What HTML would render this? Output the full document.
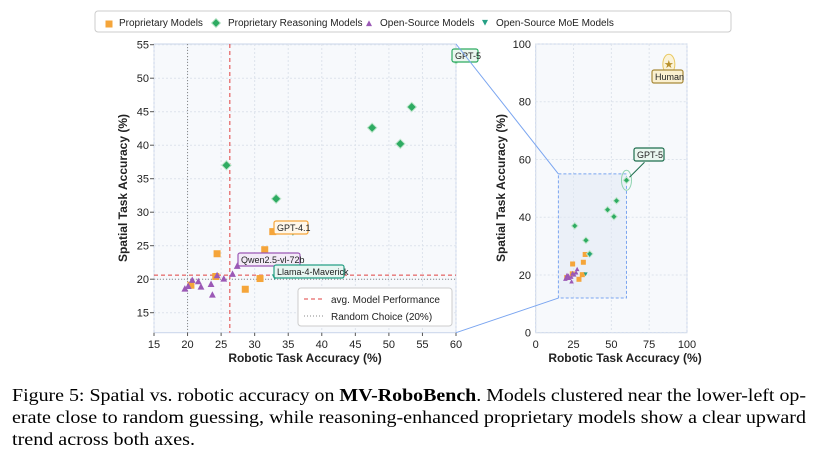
<!DOCTYPE html>
<html><head><meta charset="utf-8"><style>
body{margin:0;background:#fff;width:822px;height:458px;overflow:hidden}
svg{display:block;font-family:"Liberation Sans",sans-serif}
</style></head><body>
<svg id="fig" width="822" height="458">
</svg>
<script>
const propX=[24.4,31.5,32.7,30.8,28.6,24.2,20.5];
const propY=[23.8,24.4,27.1,20.1,18.5,20.4,19.1];
const reasX=[25.8,33.2,47.5,51.7,53.4,60,35.7];
const reasY=[37,32,42.6,40.2,45.7,52.8,27.3];
const osX=[19.6,20.1,20.7,21.6,22,23.5,23.7,24.4,25.4,26.7,27.4];
const osY=[18.5,18.9,19.8,19.6,18.8,19.2,17.6,20.5,20,20.7,21.9];
const moeX=[33,35.7];
const moeY=[20.4,27];
const humanX=[88];const humanY=[93];
const avgX=26.3, avgY=20.6, randX=20, randY=20;
const mainXTicks=[15,20,25,30,35,40,45,50,55,60];
const mainYTicks=[15,20,25,30,35,40,45,50,55];
const insTicksX=[0,25,50,75,100];
const insTicksY=[0,20,40,60,80,100];

const NS="http://www.w3.org/2000/svg";
const svg=document.getElementById('fig');
function el(tag,attrs,parent,text){const e=document.createElementNS(NS,tag);for(const k in attrs)e.setAttribute(k,attrs[k]);if(text!==undefined)e.textContent=text;(parent||svg).appendChild(e);return e;}
const C={prop:'#f5a53a',reas:'#2eab62',os:'#9b59b6',moe:'#26a085'};
const mx=v=>154+(v-15)*(302/45), my=v=>312.7-(v-15)*(268/40);
const ix=v=>535.7+v*1.513, iy=v=>332.7-v*2.887;

function marker(type,x,y,s,g){
 let m;
 if(type==='sq') m=el('rect',{x:x-s,y:y-s,width:2*s,height:2*s,fill:C.prop},g);
 else if(type==='di') m=el('polygon',{points:`${x},${y-s*1.3} ${x+s*1.3},${y} ${x},${y+s*1.3} ${x-s*1.3},${y}`,fill:C.reas,stroke:'#bfe6cc','stroke-width':1},g);
 else if(type==='tr') m=el('polygon',{points:`${x},${y-s*1.2} ${x+s},${y+s*0.7} ${x-s},${y+s*0.7}`,fill:C.os},g);
 else m=el('polygon',{points:`${x},${y+s*1.2} ${x+s},${y-s*0.7} ${x-s},${y-s*0.7}`,fill:C.moe},g);
 return m;
}

const mp=el('g',{}, svg);
el('rect',{x:154,y:44,width:302,height:288.7,fill:'#f7f9fc',stroke:'#c8d4ea','stroke-width':1},mp);
mainXTicks.forEach(t=>{el('line',{x1:mx(t),x2:mx(t),y1:44,y2:332.7,stroke:'#dde3ec','stroke-dasharray':'2,2'},mp);
 const l=el('text',{x:mx(t),y:348,'font-size':11,'text-anchor':'middle',fill:'#222'},mp,t);
 el('line',{x1:mx(t),x2:mx(t),y1:332.7,y2:336,stroke:'#555'},mp);});
mainYTicks.forEach(t=>{el('line',{x1:154,x2:456,y1:my(t),y2:my(t),stroke:'#dde3ec','stroke-dasharray':'2,2'},mp);
 const l=el('text',{x:149,y:my(t)+4,'font-size':11,'text-anchor':'end',fill:'#222'},mp,t);
 el('line',{x1:150,x2:154,y1:my(t),y2:my(t),stroke:'#555'},mp);});
el('line',{x1:mx(randX),x2:mx(randX),y1:44,y2:332.7,stroke:'#888','stroke-dasharray':'1,2'},mp);
el('line',{x1:154,x2:456,y1:my(randY),y2:my(randY),stroke:'#888','stroke-dasharray':'1,2'},mp);
el('line',{x1:mx(avgX),x2:mx(avgX),y1:44,y2:332.7,stroke:'#e04040','stroke-dasharray':'4,3'},mp);
el('line',{x1:154,x2:456,y1:my(avgY),y2:my(avgY),stroke:'#e04040','stroke-dasharray':'4,3'},mp);
propX.forEach((v,i)=>{const m=marker('sq',mx(v),my(propY[i]),3.5,mp);});
reasX.forEach((v,i)=>{const m=marker('di',mx(v),my(reasY[i]),3.6,mp);});
osX.forEach((v,i)=>{const m=marker('tr',mx(v),my(osY[i]),3.4,mp);});
moeX.forEach((v,i)=>{const m=marker('moe',mx(v),my(moeY[i]),3,mp);});
function tag(x,y,txt,stroke,fill,w,name){const g=el('g',{},svg);
 el('rect',{x:x,y:y,width:w,height:13,rx:2,fill:fill,stroke:stroke,'stroke-width':1.2},g);el('text',{x:x+3,y:y+10,'font-size':9,fill:'#222'},g,txt);}
tag(274,221,'GPT-4.1','#f5a53a','#fff7ea',34,'gpt41-label');
tag(238,253,'Qwen2.5-vl-72b','#9b59b6','#f3eaf7',62,'qwen-label');
tag(274,265,'Llama-4-Maverick','#26a085','#e8f6f2',70,'llama-label');
tag(452,49,'GPT-5','#2eab62','#eaf7ef',26,'gpt5-main-label');
const lg=el('g',{},mp);
el('rect',{x:298,y:288,width:154,height:38,rx:3,fill:'#fff',stroke:'#ccc'},lg);
el('line',{x1:304,x2:324,y1:299,y2:299,stroke:'#e04040','stroke-dasharray':'4,3'},lg);
el('text',{x:331,y:303,'font-size':10,fill:'#222'},lg,'avg. Model Performance');
el('line',{x1:304,x2:324,y1:316,y2:316,stroke:'#888','stroke-dasharray':'1,2'},lg);
el('text',{x:331,y:320,'font-size':10,fill:'#222'},lg,'Random Choice (20%)');
let t=el('text',{x:305,y:362,'font-size':12,'font-weight':'bold','text-anchor':'middle',fill:'#222'},svg,'Robotic Task Accuracy (%)');
t=el('text',{x:0,y:0,'font-size':12,'font-weight':'bold','text-anchor':'middle',fill:'#222',transform:'translate(127,188) rotate(-90)'},svg,'Spatial Task Accuracy (%)');

const ip=el('g',{},svg);
el('rect',{x:535.7,y:44,width:151.3,height:288.7,fill:'#f7f9fc',stroke:'#c8d4ea'},ip);
insTicksX.forEach(v=>{el('line',{x1:ix(v),x2:ix(v),y1:44,y2:332.7,stroke:'#dde3ec','stroke-dasharray':'2,2'},ip);
 const l=el('text',{x:ix(v),y:348,'font-size':11,'text-anchor':'middle',fill:'#222'},ip,v);});
insTicksY.forEach(v=>{el('line',{x1:535.7,x2:687,y1:iy(v),y2:iy(v),stroke:'#dde3ec','stroke-dasharray':'2,2'},ip);
 const l=el('text',{x:531,y:iy(v)+4,'font-size':11,'text-anchor':'end',fill:'#222'},ip,v);});
el('rect',{x:ix(15),y:iy(55),width:ix(60)-ix(15),height:iy(12)-iy(55),fill:'#dfe7f3','fill-opacity':0.5,stroke:'#7aa5f0','stroke-dasharray':'3,2'},ip);
el('line',{x1:456,y1:44,x2:ix(15),y2:iy(55),stroke:'#7aa5f0'},svg);
el('line',{x1:456,y1:332.7,x2:ix(15),y2:iy(12),stroke:'#7aa5f0'},svg);
propX.forEach((v,i)=>{const m=marker('sq',ix(v),iy(propY[i]),2.5,ip);});
reasX.forEach((v,i)=>{const m=marker('di',ix(v),iy(reasY[i]),2.5,ip);});
osX.forEach((v,i)=>{const m=marker('tr',ix(v),iy(osY[i]),2.3,ip);});
moeX.forEach((v,i)=>{const m=marker('moe',ix(v),iy(moeY[i]),2,ip);});
el('ellipse',{cx:ix(60),cy:iy(52.8),rx:5,ry:10,fill:'none',stroke:'#8fd3b0'},ip);
el('line',{x1:ix(60)+18,y1:iy(52.8)-18,x2:ix(60)+3,y2:iy(52.8)-3,stroke:'#1e6e4e'},ip);
tag(634,148,'GPT-5','#1e6e4e','#eaf7ef',30,'gpt5-inset-label');
el('ellipse',{cx:ix(humanX[0]),cy:iy(humanY[0]),rx:6,ry:10,fill:'#fbf3d8',stroke:'#e8c860'},ip);
t=el('text',{x:ix(humanX[0]),y:iy(humanY[0])+4,'font-size':11,'text-anchor':'middle',fill:'#b8902a'},ip,'★');
tag(652,70,'Human','#a88a3a','#faf0d0',31,'human-label');
t=el('text',{x:625,y:362,'font-size':12,'font-weight':'bold','text-anchor':'middle',fill:'#222'},svg,'Robotic Task Accuracy (%)');
t=el('text',{x:0,y:0,'font-size':12,'font-weight':'bold','text-anchor':'middle',fill:'#222',transform:'translate(505,188) rotate(-90)'},svg,'Spatial Task Accuracy (%)');

const tl=el('g',{},svg);
el('rect',{x:95,y:11,width:636,height:21,rx:3,fill:'#fff',stroke:'#ccc'},tl);
marker('sq',109,24,3.5,tl);el('text',{x:119,y:26,'font-size':10,fill:'#222'},tl,'Proprietary Models');
marker('di',216,23,3.5,tl);el('text',{x:228,y:26,'font-size':10,fill:'#222'},tl,'Proprietary Reasoning Models');
marker('tr',369,24,3,tl);el('text',{x:380,y:26,'font-size':10,fill:'#222'},tl,'Open-Source Models');
marker('moe',485,22,3,tl);el('text',{x:496,y:26,'font-size':10,fill:'#222'},tl,'Open-Source MoE Models');

const cap=el('g',{'font-family':'"Liberation Serif",serif','font-size':18,fill:'#000'},svg);
const c1=el('text',{x:12,y:401,textLength:794,lengthAdjust:'spacingAndGlyphs'},cap);
el('tspan',{},c1,'Figure 5: Spatial vs. robotic accuracy on ');el('tspan',{'font-weight':'bold'},c1,'MV-RoboBench');el('tspan',{},c1,'. Models clustered near the lower-left op-');
el('text',{x:12,y:423,textLength:794,lengthAdjust:'spacingAndGlyphs'},cap,'erate close to random guessing, while reasoning-enhanced proprietary models show a clear upward');
el('text',{x:12,y:445,textLength:183,lengthAdjust:'spacingAndGlyphs'},cap,'trend across both axes.');
</script>
</body></html>
